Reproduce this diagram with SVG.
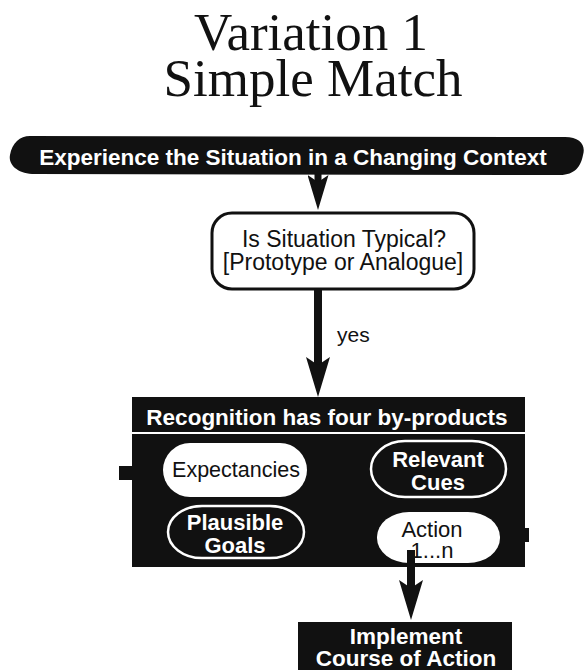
<svg xmlns="http://www.w3.org/2000/svg" width="585" height="670" viewBox="0 0 585 670">
  <style>
    .title { font-family: "Liberation Serif", "Times New Roman", serif; font-size: 53px; fill: #111; text-anchor: middle; }
    .sans { font-family: "Liberation Sans", Arial, Helvetica, sans-serif; text-anchor: middle; }
    .wb { font-weight: bold; fill: #fff; font-size: 22.5px; }
    .bk { fill: #111; font-size: 22px; }
    .dark { fill: #111; }
    .pill-w { fill: #fff; stroke: none; }
    .pill-o { fill: #111; stroke: #fff; stroke-width: 2.5; }
    .conn { stroke: #111; fill: none; }
  </style>
  <defs>
    <marker id="head" viewBox="0 0 10 6" refX="2" refY="3" markerWidth="5" markerHeight="3" markerUnits="strokeWidth" orient="auto">
      <path d="M0,0 L10,3 L0,6 L2,3 Z" fill="#111"/>
    </marker>
  </defs>

  <rect width="585" height="670" fill="#fff"/>

  <!-- heading -->
  <g id="heading">
    <text class="title" x="311" y="50">Variation 1</text>
    <text class="title" x="313" y="96">Simple Match</text>
  </g>

  <!-- entry banner -->
  <g id="experience">
    <path class="dark" d="M30,136 L565,137 C580,137 586,145 583,155 C581,166 575,175 560,175 L35,174 C18,174 8,165 10,155 C12,143 20,136 30,136 Z"/>
    <text class="sans wb" x="293" y="165">Experience the Situation in a Changing Context</text>
  </g>

  <!-- typicality check -->
  <g id="typical">
    <rect x="212" y="213" width="262" height="76" rx="20" ry="20" fill="#fff" stroke="#111" stroke-width="3"/>
    <text class="sans bk" x="344" y="247" style="font-size:23px">Is Situation Typical?</text>
    <text class="sans bk" x="343" y="270" style="font-size:23px">[Prototype or Analogue]</text>
  </g>

  <!-- recognition by-products -->
  <g id="recognition">
    <rect class="dark" x="132" y="397" width="393" height="35"/>
    <rect class="dark" x="132" y="434" width="393" height="133"/>
    <rect class="dark" x="119" y="466" width="16" height="14"/>
    <rect class="dark" x="500" y="528" width="29" height="14"/>
    <text class="sans wb" x="327" y="425">Recognition has four by-products</text>
  </g>

  <g id="expectancies">
    <rect class="pill-w" x="163" y="443" width="144" height="54" rx="27" ry="27"/>
    <text class="sans bk" x="236" y="477" style="font-size:21.5px">Expectancies</text>
  </g>

  <g id="cues">
    <rect class="pill-o" x="371" y="441" width="135" height="56" rx="34" ry="28"/>
    <text class="sans wb" x="438" y="467" style="font-size:22px">Relevant</text>
    <text class="sans wb" x="438" y="490" style="font-size:22px">Cues</text>
  </g>

  <g id="goals">
    <rect class="pill-o" x="168" y="506" width="136" height="52" rx="34" ry="26"/>
    <text class="sans wb" x="235" y="530" style="font-size:22px">Plausible</text>
    <text class="sans wb" x="235" y="553" style="font-size:22px">Goals</text>
  </g>

  <g id="action">
    <rect class="pill-w" x="377" y="512" width="123" height="51" rx="32" ry="25"/>
    <text class="sans bk" x="432" y="537">Action</text>
    <text class="sans bk" x="432" y="558">1...n</text>
  </g>

  <!-- implementation -->
  <g id="implement">
    <rect class="dark" x="298" y="622" width="214" height="48"/>
    <text class="sans wb" x="406" y="644">Implement</text>
    <text class="sans wb" x="406" y="666">Course of Action</text>
  </g>

  <!-- connectors -->
  <g id="connectors">
    <line class="conn" x1="318" y1="170" x2="318" y2="182" stroke-width="7" marker-end="url(#head)"/>
    <line class="conn" x1="318" y1="289" x2="318" y2="365" stroke-width="8" marker-end="url(#head)"/>
    <text class="sans bk" x="337" y="342" style="text-anchor:start;font-size:21px">yes</text>
    <line class="conn" x1="411" y1="550" x2="411" y2="588" stroke-width="8" marker-end="url(#head)"/>
  </g>
</svg>
